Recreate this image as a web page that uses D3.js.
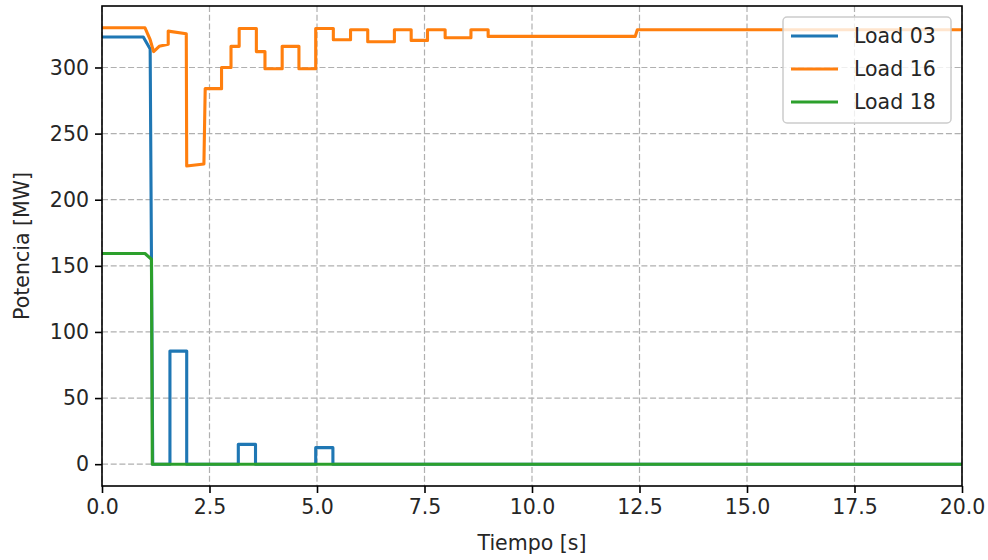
<!DOCTYPE html>
<html>
<head>
<meta charset="utf-8">
<script src="https://cdn.jsdelivr.net/npm/d3@7/dist/d3.min.js"></script>
<style>
  html, body { margin: 0; padding: 0; background: #fff; }
  svg { display: block; font-family: "DejaVu Sans", sans-serif; }
</style>
</head>
<body>
<svg id="chart" width="988" height="560"></svg>
<script>
// Time samples [s] and power [MW] for each load
const load03Time  = [0, 0.96, 1.12, 1.18, 1.58, 1.58, 1.97, 1.97, 3.17, 3.17, 3.57, 3.57, 4.97, 4.97, 5.37, 5.37, 20];
const load03Power = [323, 323, 314, 0, 0, 85.5, 85.5, 0, 0, 15, 15, 0, 0, 12.5, 12.5, 0, 0];

const load16Time  = [0, 1.0, 1.12, 1.2, 1.33, 1.54, 1.54, 1.96, 1.97, 2.37, 2.4, 2.78, 2.78, 3.0, 3.0, 3.19, 3.19, 3.59, 3.59, 3.79, 3.79, 4.19, 4.19, 4.58, 4.58, 4.97, 4.97, 5.38, 5.38, 5.78, 5.78, 6.18, 6.18, 6.8, 6.8, 7.19, 7.19, 7.57, 7.57, 7.98, 7.98, 8.58, 8.58, 8.98, 8.98, 12.4, 12.45, 20];
const load16Power = [330, 330, 321, 312, 316, 317.5, 327.5, 325.5, 225.5, 227, 284, 284, 300, 300, 316, 316, 329.5, 329.5, 312, 312, 299, 299, 316, 316, 299, 299, 329.5, 329.5, 321, 321, 328.5, 328.5, 319.5, 319.5, 328.5, 328.5, 320.5, 320.5, 328.5, 328.5, 322.5, 322.5, 328.5, 328.5, 323.5, 323.5, 328.5, 328.5];

const load18Time  = [0, 1.0, 1.15, 1.17, 20];
const load18Power = [159.3, 159.3, 155, 0, 0];

const seriesNames  = ["Load 03", "Load 16", "Load 18"];
const seriesColors = ["#1f77b4", "#ff7f0e", "#2ca02c"];

const xTicks = [0, 2.5, 5, 7.5, 10, 12.5, 15, 17.5, 20];
const yTicks = [0, 50, 100, 150, 200, 250, 300];

const xLabel = "Tiempo [s]";
const yLabel = "Potencia [MW]";

// ---- layout ----
const W = 988, H = 560;
const margin = { left: 102, right: 26, top: 6, bottom: 74 };
const iw = W - margin.left - margin.right;
const ih = H - margin.top - margin.bottom;
const fontSize = 20.5;

const svg = d3.select("#chart");
const g = svg.append("g").attr("transform", `translate(${margin.left},${margin.top})`);

const x = d3.scaleLinear().domain([0, 20]).range([0, iw]);
const y = d3.scaleLinear().domain([-16.5, 346.5]).range([ih, 0]);

// grid
const gridStyle = sel => sel.attr("stroke", "#b0b0b0").attr("stroke-width", 1.2)
  .attr("stroke-dasharray", "6,2.7");
g.append("g").selectAll("line").data(xTicks).join("line")
  .attr("x1", d => x(d)).attr("x2", d => x(d)).attr("y1", 0).attr("y2", ih)
  .call(gridStyle);
g.append("g").selectAll("line").data(yTicks).join("line")
  .attr("x1", 0).attr("x2", iw).attr("y1", d => y(d)).attr("y2", d => y(d))
  .call(gridStyle);

// lines
svg.append("defs").append("clipPath").attr("id", "plotClip")
  .append("rect").attr("width", iw).attr("height", ih);

const series = [
  { t: load03Time, v: load03Power },
  { t: load16Time, v: load16Power },
  { t: load18Time, v: load18Power }
].map((s, i) => ({
  name: seriesNames[i],
  color: seriesColors[i],
  points: s.t.map((t, k) => [t, s.v[k]])
}));

const line = d3.line().x(d => x(d[0])).y(d => y(d[1]));
g.append("g").attr("clip-path", "url(#plotClip)")
  .selectAll("path").data(series).join("path")
  .attr("d", d => line(d.points))
  .attr("fill", "none")
  .attr("stroke", d => d.color)
  .attr("stroke-width", 3.1)
  .attr("stroke-linejoin", "round")
  .attr("stroke-linecap", "square");

// axes
const xAxis = d3.axisBottom(x).tickValues(xTicks).tickFormat(d3.format(".1f"))
  .tickSize(7).tickPadding(6);
const yAxis = d3.axisLeft(y).tickValues(yTicks).tickFormat(d3.format("d"))
  .tickSize(7).tickPadding(6);

const styleAxis = a => {
  a.select(".domain").remove();
  a.selectAll(".tick line").attr("stroke", "#000").attr("stroke-width", 1.6);
  a.selectAll(".tick text").attr("fill", "#262626").attr("font-size", fontSize)
    .attr("font-family", "DejaVu Sans, sans-serif");
};
g.append("g").attr("transform", `translate(0,${ih})`).call(xAxis).call(styleAxis);
g.append("g").call(yAxis).call(styleAxis);

// frame
g.append("rect").attr("width", iw).attr("height", ih)
  .attr("fill", "none").attr("stroke", "#000").attr("stroke-width", 1.6);

// axis labels
svg.append("text")
  .attr("x", margin.left + iw / 2).attr("y", 550)
  .attr("text-anchor", "middle").attr("font-size", fontSize).attr("fill", "#262626")
  .text(xLabel);
svg.append("text")
  .attr("transform", `translate(29,${margin.top + ih / 2}) rotate(-90)`)
  .attr("text-anchor", "middle").attr("font-size", fontSize).attr("fill", "#262626")
  .text(yLabel);

// legend
const lg = svg.append("g").attr("transform", "translate(783,17)");
lg.append("rect").attr("width", 168).attr("height", 106).attr("rx", 4)
  .attr("fill", "#fff").attr("fill-opacity", 0.8)
  .attr("stroke", "#cccccc").attr("stroke-width", 1.5);
const rows = lg.selectAll("g.row").data(series).join("g")
  .attr("class", "row")
  .attr("transform", (d, i) => `translate(0,${19 + i * 33})`);
rows.append("line").attr("x1", 8).attr("x2", 55).attr("y1", 0).attr("y2", 0)
  .attr("stroke", d => d.color).attr("stroke-width", 3.1);
rows.append("text").attr("x", 71).attr("y", 0).attr("dy", "0.36em")
  .attr("font-size", fontSize).attr("fill", "#262626")
  .text(d => d.name);
</script>
</body>
</html>
